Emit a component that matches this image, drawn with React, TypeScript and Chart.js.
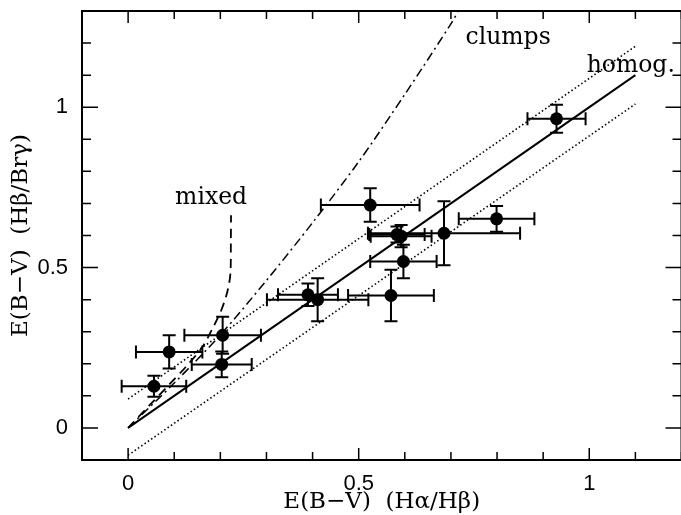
import React, { useEffect, useRef } from 'react';
import { Chart, registerables } from 'chart.js';

Chart.register(...registerables);

// Observed points: E(B-V) from Halpha/Hbeta (x) and Hbeta/Brgamma (y)
const pointX = [0.056, 0.089, 0.205, 0.203, 0.39, 0.411, 0.525, 0.592, 0.583, 0.597, 0.57, 0.685, 0.799, 0.929];
const pointY = [0.13, 0.237, 0.289, 0.198, 0.415, 0.40, 0.695, 0.598, 0.603, 0.519, 0.413, 0.607, 0.652, 0.964];
const xErr = [0.07, 0.072, 0.083, 0.065, 0.065, 0.11, 0.107, 0.066, 0.06, 0.072, 0.093, 0.165, 0.082, 0.063];
const yErr = [0.033, 0.052, 0.058, 0.04, 0.035, 0.067, 0.052, 0.035, 0.025, 0.052, 0.08, 0.1, 0.04, 0.044];

// Model curves
const homogX = [0, 1.1];
const homogY = [0, 1.1];
const upperX = [0, 1.1];
const upperY = [0.09, 1.19];
const lowerX = [0, 1.1];
const lowerY = [-0.085, 1.01];
const mixedX = [0, 0.046, 0.089, 0.125, 0.161, 0.183, 0.2, 0.212, 0.219, 0.2222, 0.2228, 0.2232];
const mixedY = [0, 0.07, 0.135, 0.19, 0.252, 0.31, 0.36, 0.408, 0.45, 0.49, 0.58, 0.663];
const clumpsX = [0, 0.1, 0.2, 0.3, 0.4, 0.5, 0.6, 0.7, 0.72];
const clumpsY = [0, 0.14, 0.29, 0.46, 0.64, 0.83, 1.04, 1.26, 1.31];

// Axis ticks
const majorTicks = [0, 0.5, 1];
const tickLabels = ['0', '0.5', '1'];

// Curve labels (anchored in data coordinates)
const labelTexts = ['mixed', 'clumps', 'homog.'];
const labelX = [0.18, 0.824, 1.09];
const labelY = [0.697, 1.198, 1.109];

const xTitle = 'E(B\u2212V)  (H\u03b1/H\u03b2)';
const yTitle = 'E(B\u2212V)  (H\u03b2/Br\u03b3)';

const toPts = (xs: number[], ys: number[]) => xs.map((x, i) => ({ x, y: ys[i] }));
const isMajor = (v: number) => majorTicks.some((m) => Math.abs(m - v) < 1e-6);
const labelFor = (v: number) => {
  const i = majorTicks.findIndex((m) => Math.abs(m - v) < 1e-6);
  return i >= 0 ? tickLabels[i] : '';
};

const framePlugin = {
  id: 'frameAndBars',
  afterDatasetsDraw(chart: any) {
    const { ctx, chartArea: a, scales } = chart;
    const xs = scales.x;
    const ys = scales.y;
    ctx.save();
    ctx.strokeStyle = '#000';
    ctx.fillStyle = '#000';
    // error bars
    ctx.lineWidth = 2;
    const cap = 6.5;
    for (let i = 0; i < pointX.length; i++) {
      const px = xs.getPixelForValue(pointX[i]);
      const py = ys.getPixelForValue(pointY[i]);
      const x1 = xs.getPixelForValue(pointX[i] - xErr[i]);
      const x2 = xs.getPixelForValue(pointX[i] + xErr[i]);
      const y1 = ys.getPixelForValue(pointY[i] - yErr[i]);
      const y2 = ys.getPixelForValue(pointY[i] + yErr[i]);
      ctx.beginPath();
      ctx.moveTo(x1, py); ctx.lineTo(x2, py);
      ctx.moveTo(x1, py - cap); ctx.lineTo(x1, py + cap);
      ctx.moveTo(x2, py - cap); ctx.lineTo(x2, py + cap);
      ctx.moveTo(px, y1); ctx.lineTo(px, y2);
      ctx.moveTo(px - cap, y1); ctx.lineTo(px + cap, y1);
      ctx.moveTo(px - cap, y2); ctx.lineTo(px + cap, y2);
      ctx.stroke();
    }
    // frame
    ctx.lineWidth = 2;
    ctx.strokeRect(a.left, a.top, a.right - a.left, a.bottom - a.top);
    // inward ticks
    ctx.lineWidth = 1.5;
    ctx.beginPath();
    xs.ticks.forEach((t: any) => {
      const p = xs.getPixelForValue(t.value);
      const maj = isMajor(t.value);
      const lb = maj ? 12 : 8;
      const lt = maj ? 12 : 8;
      ctx.moveTo(p, a.bottom); ctx.lineTo(p, a.bottom - lb);
      ctx.moveTo(p, a.top); ctx.lineTo(p, a.top + lt);
    });
    ys.ticks.forEach((t: any) => {
      const p = ys.getPixelForValue(t.value);
      const maj = isMajor(t.value);
      const ll = maj ? 16 : 9;
      const lr = maj ? 16 : 9;
      ctx.moveTo(a.left, p); ctx.lineTo(a.left + ll, p);
      ctx.moveTo(a.right, p); ctx.lineTo(a.right - lr, p);
    });
    ctx.stroke();
    // curve labels
    ctx.font = '23.5px "DejaVu Serif"';
    ctx.textAlign = 'center';
    ctx.textBaseline = 'alphabetic';
    for (let i = 0; i < labelTexts.length; i++) {
      ctx.fillText(labelTexts[i], xs.getPixelForValue(labelX[i]), ys.getPixelForValue(labelY[i]));
    }
    ctx.restore();
  },
};

const zeroPad = (s: any) => {
  s.paddingTop = 0;
  s.paddingBottom = 0;
  s.paddingLeft = 0;
  s.paddingRight = 0;
};

export default function App() {
  const ref = useRef<HTMLCanvasElement | null>(null);
  useEffect(() => {
    if (!ref.current) return;
    const lineDs = (data: any, dash: number[], width: number) => ({
      type: 'line',
      data,
      showLine: true,
      borderColor: '#000',
      backgroundColor: '#000',
      borderWidth: width,
      borderDash: dash,
      pointRadius: 0,
      fill: false,
      tension: 0,
    });
    const chart = new Chart(ref.current, {
      type: 'scatter',
      data: {
        datasets: [
          lineDs(toPts(homogX, homogY), [], 2),
          lineDs(toPts(upperX, upperY), [1.5, 2.5], 1.6),
          lineDs(toPts(lowerX, lowerY), [1.5, 2.5], 1.6),
          { ...lineDs(toPts(mixedX, mixedY), [9, 6], 1.8), tension: 0.3 },
          { ...lineDs(toPts(clumpsX, clumpsY), [9, 4, 2, 4], 1.5), tension: 0.3 },
          {
            type: 'scatter',
            data: toPts(pointX, pointY),
            pointRadius: 6.5,
            pointBackgroundColor: '#000',
            pointBorderWidth: 0,
            borderColor: '#000',
          },
        ] as any,
      },
      options: {
        animation: false,
        responsive: false,
        devicePixelRatio: 1,
        layout: { padding: { top: 11, right: 3, left: 0, bottom: 0 } },
        plugins: { legend: { display: false }, tooltip: { enabled: false } },
        scales: {
          x: {
            type: 'linear',
            min: -0.1,
            max: 1.2,
            afterFit: (s: any) => { s.height = 55; zeroPad(s); },
            grid: { display: false, drawTicks: false },
            border: { display: false },
            ticks: {
              stepSize: 0.1,
              autoSkip: false,
              maxRotation: 0,
              padding: 11,
              color: '#000',
              font: { family: '"Liberation Sans", Arial, sans-serif', size: 22 },
              callback: (v: any) => labelFor(Number(v)),
            },
            title: {
              display: true,
              text: xTitle,
              color: '#000',
              font: { family: '"DejaVu Serif", serif', size: 23 },
              padding: { top: 0, bottom: -1 },
            },
          },
          y: {
            type: 'linear',
            min: -0.1,
            max: 1.3,
            afterFit: (s: any) => { s.width = 82; zeroPad(s); },
            grid: { display: false, drawTicks: false },
            border: { display: false },
            ticks: {
              stepSize: 0.1,
              autoSkip: false,
              padding: 14,
              color: '#000',
              font: { family: '"Liberation Sans", Arial, sans-serif', size: 22 },
              callback: (v: any) => labelFor(Number(v)),
            },
            title: {
              display: true,
              text: yTitle,
              color: '#000',
              font: { family: '"DejaVu Serif", serif', size: 23 },
              padding: { top: 7, bottom: 0 },
            },
          },
        },
      } as any,
      plugins: [framePlugin],
    });
    return () => chart.destroy();
  }, []);
  return (
    <div style={{ position: 'absolute', left: 0, top: 0, width: 681, height: 515, overflow: 'hidden', background: '#fff' }}>
      <canvas ref={ref} width={688} height={515} style={{ display: 'block', width: 688, height: 515 }} />
    </div>
  );
}
